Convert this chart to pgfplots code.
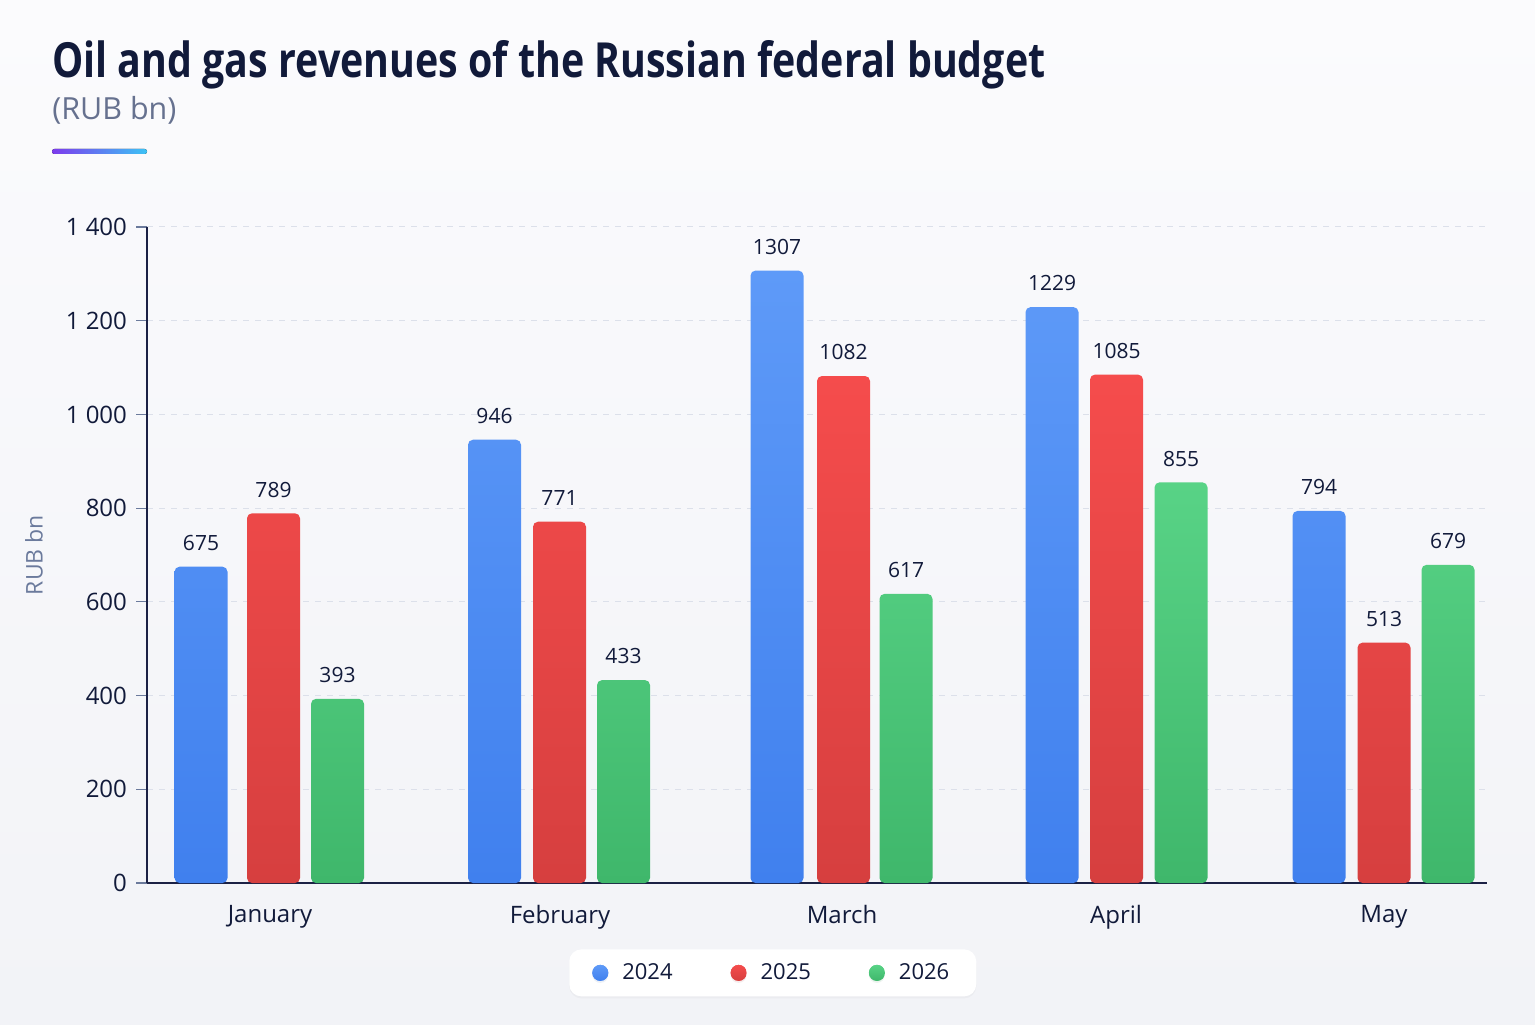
\documentclass[border=0pt]{standalone}
\usepackage{pgfplots}
\pgfplotsset{compat=1.18}
\usepackage{fontspec}
\setmainfont{Open Sans}
\usepackage{graphicx}
\usetikzlibrary{shadows}
\definecolor{titlecol}{HTML}{111A3A}
\definecolor{subcol}{HTML}{66718F}
\definecolor{axiscol}{HTML}{1B2145}
\definecolor{gridcol}{HTML}{DCE0EA}
\definecolor{ylabcol}{HTML}{6B7A9C}
\definecolor{bluetop}{HTML}{5E9AF8}
\definecolor{bluebot}{HTML}{4080EE}
\definecolor{redtop}{HTML}{F54C4C}
\definecolor{redbot}{HTML}{D63F3F}
\definecolor{greentop}{HTML}{58D386}
\definecolor{greenbot}{HTML}{3FB76B}
\definecolor{bgtop}{HTML}{FBFBFD}
\definecolor{bgbot}{HTML}{F2F3F7}
\definecolor{purp}{HTML}{7C3AED}
\definecolor{sky}{HTML}{3CC3F5}
\begin{document}
\begin{tikzpicture}[x=1pt,y=1pt]
\shade[top color=bgtop,bottom color=bgbot] (0,0) rectangle (767.5,512);
\node[anchor=base west,inner sep=0pt,text=titlecol] at (26,473) {\resizebox{496.5pt}{18.5pt}{\bfseries Oil and gas revenues of the Russian federal budget}};
\node[anchor=base west,inner sep=0pt,text=subcol] at (26,452) {\resizebox{62pt}{!}{(RUB bn)}};
\fill[left color=purp,right color=sky,rounded corners=1.2pt] (26,435) rectangle (73.5,437.5);
\begin{axis}[
  at={(73.5pt,70.5pt)}, anchor=south west,
  scale only axis, width=670pt, height=328pt,
  xmin=147, xmax=1487, ymin=0, ymax=1400,
  axis x line*=bottom, axis y line*=left,
  axis line style={-, draw=axiscol, line width=1pt},
  xtick={270,560,842,1116,1384},
  xticklabels={January,February,March,April,May},
  ytick={0,200,400,600,800,1000,1200,1400},
  yticklabels={0,200,400,600,800,1 000,1 200,1 400},
  x tick style={draw=none},
  y tick style={draw=ylabcol, line width=0.6pt},
  tick align=outside, major tick length=5.5pt,
  ymajorgrids, grid style={draw=gridcol, line width=0.5pt, dash pattern=on 3pt off 3pt},
  tick label style={font=\fontsize{12}{14}\selectfont, text=titlecol},
  xticklabel style={font=\fontsize{12}{14}\selectfont},
  xticklabel shift=2pt,
  yticklabel shift=1pt,
  ylabel={RUB bn},
  ylabel style={at={(axis description cs:-0.0843,0.5)}, anchor=center, rotate=0, font=\fontsize{11.5}{13}\selectfont, text=ylabcol},
  /pgf/number format/1000 sep={},
  /pgf/number format/assume math mode=true,
  nodes near coords,
  nodes near coords style={font=\fontsize{10.5}{12}\selectfont, text=titlecol, yshift=4.5pt},
  legend style={at={(0.467,-0.137)}, anchor=center, legend columns=3, draw=none, fill=white,
    rounded corners=6pt, inner xsep=11.5pt, inner ysep=5pt,
    drop shadow={opacity=0.06, shadow xshift=0pt, shadow yshift=-1pt},
    font=\fontsize{11}{13}\selectfont, text=titlecol,
    /tikz/every odd column/.append style={column sep=5pt},
    /tikz/every even column/.append style={column sep=27pt}},
  clip=false,
]
\addplot[ybar, bar width=53, bar shift=0pt, draw=none, top color=bluetop, bottom color=bluebot, rounded corners=2.5pt,
  legend image code/.code={\fill[bluetop!60!bluebot] (4pt,0pt) circle (4pt);}]
  coordinates {(201,675) (494.5,946) (777,1307) (1052,1229) (1319,794)};
\addlegendentry{2024}
\addplot[ybar, bar width=53, bar shift=0pt, draw=none, top color=redtop, bottom color=redbot, rounded corners=2.5pt,
  legend image code/.code={\fill[redtop!60!redbot] (4pt,0pt) circle (4pt);}]
  coordinates {(273.5,789) (559.5,771) (843.5,1082) (1116.5,1085) (1384,513)};
\addlegendentry{2025}
\addplot[ybar, bar width=53, bar shift=0pt, draw=none, top color=greentop, bottom color=greenbot, rounded corners=2.5pt,
  legend image code/.code={\fill[greentop!60!greenbot] (4pt,0pt) circle (4pt);}]
  coordinates {(337.5,393) (623.5,433) (906,617) (1181,855) (1448,679)};
\addlegendentry{2026}
\end{axis}
\end{tikzpicture}
\end{document}
